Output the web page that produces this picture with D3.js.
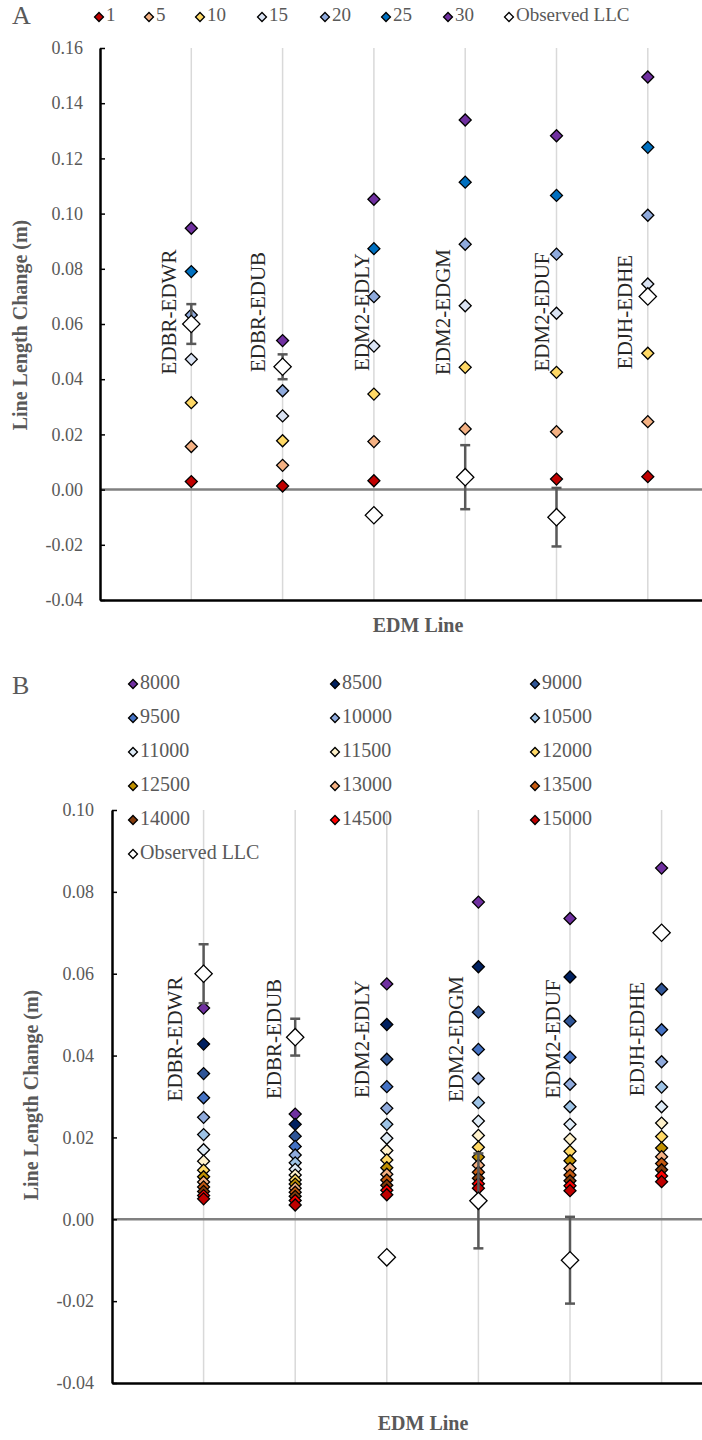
<!DOCTYPE html>
<html>
<head>
<meta charset="utf-8">
<script src="https://cdn.jsdelivr.net/npm/d3@7"></script>
<style>
  body { margin: 0; background: #fff; }
  svg text { font-family: "Liberation Serif", "DejaVu Serif", serif; }
</style>
</head>
<body>
<script>
const WIDTH  = 702;
const HEIGHT = 1440;

// EDM lines (categories, same for both panels)
const edmLines = ["EDBR-EDWR", "EDBR-EDUB", "EDM2-EDLY", "EDM2-EDGM", "EDM2-EDUF", "EDJH-EDHE"];

// Observed line length change and its error (m)
const observedLLC = [0.0600, 0.0445, -0.0093, 0.0045, -0.0100, 0.0700];
const observedErr = [0.0072, 0.0045, 0.0008, 0.0116, 0.0106, 0.0006];

// Panel A series names + values
const seriesNamesA = ["1", "5", "10", "15", "20", "25", "30"];
const a1  = [0.0029, 0.0013, 0.0032, 0.0045, 0.0038, 0.0047];
const a5  = [0.0156, 0.0088, 0.0174, 0.0220, 0.0210, 0.0246];
const a10 = [0.0315, 0.0177, 0.0346, 0.0443, 0.0425, 0.0494];
const a15 = [0.0472, 0.0267, 0.0520, 0.0666, 0.0639, 0.0745];
const a20 = [0.0633, 0.0358, 0.0699, 0.0889, 0.0853, 0.0994];
const a25 = [0.0790, 0.0448, 0.0873, 0.1114, 0.1066, 0.1240];
const a30 = [0.0947, 0.0540, 0.1052, 0.1339, 0.1282, 0.1495];

// Panel B series names + values
const seriesNamesB = ["8000", "8500", "9000", "9500", "10000", "10500", "11000", "11500",
                      "12000", "12500", "13000", "13500", "14000", "14500", "15000"];
const b8000  = [0.0516, 0.0257, 0.0575, 0.0775, 0.0735, 0.0858];
const b8500  = [0.0428, 0.0232, 0.0476, 0.0617, 0.0592, 0.0700];
const b9000  = [0.0356, 0.0203, 0.0391, 0.0506, 0.0484, 0.0562];
const b9500  = [0.0297, 0.0178, 0.0324, 0.0415, 0.0396, 0.0463];
const b10000 = [0.0249, 0.0157, 0.0271, 0.0344, 0.0330, 0.0385];
const b10500 = [0.0207, 0.0138, 0.0232, 0.0285, 0.0275, 0.0323];
const b11000 = [0.0170, 0.0122, 0.0198, 0.0240, 0.0232, 0.0275];
const b11500 = [0.0142, 0.0108, 0.0168, 0.0205, 0.0196, 0.0235];
const b12000 = [0.0120, 0.0096, 0.0145, 0.0176, 0.0166, 0.0202];
const b12500 = [0.0104, 0.0086, 0.0126, 0.0152, 0.0143, 0.0174];
const b13000 = [0.0091, 0.0076, 0.0110, 0.0132, 0.0124, 0.0153];
const b13500 = [0.0079, 0.0066, 0.0096, 0.0115, 0.0108, 0.0136];
const b14000 = [0.0068, 0.0056, 0.0083, 0.0100, 0.0094, 0.0121];
const b14500 = [0.0058, 0.0046, 0.0071, 0.0087, 0.0082, 0.0106];
const b15000 = [0.0050, 0.0035, 0.0060, 0.0076, 0.0070, 0.0092];

// Tick labels
const yTicksA = [-0.04, -0.02, 0, 0.02, 0.04, 0.06, 0.08, 0.10, 0.12, 0.14, 0.16];
const yTicksB = [-0.04, -0.02, 0, 0.02, 0.04, 0.06, 0.08, 0.10];

// Colours
const coloursA = ["#c00000", "#f4b183", "#ffd966", "#dae3f3", "#8faadc", "#0070c0", "#7030a0"];
const coloursB = ["#7030a0", "#002060", "#2f5597", "#4472c4", "#8faadc", "#9dc3e6", "#deebf7",
                  "#fff2cc", "#ffd966", "#bf9000", "#f4b183", "#c55a11", "#843c0c", "#ff0000", "#c00000"];

const GREY_TEXT = "#595959";

const svg = d3.select("body").append("svg")
  .attr("width", WIDTH)
  .attr("height", HEIGHT);

// diamond = rotated square
function diamond(g, x, y, area, fill) {
  g.append("path")
    .attr("d", d3.symbol().type(d3.symbolSquare).size(area)())
    .attr("transform", "translate(" + x + "," + y + ") rotate(45)")
    .style("fill", fill)
    .style("stroke", "#000")
    .style("stroke-width", 1.3);
}

function drawPanel(cfg) {
  const g = svg.append("g");
  const x = d3.scaleLinear().domain([0, 7]).range([cfg.left, cfg.left + 7 * cfg.step]);
  const y = d3.scaleLinear().domain(cfg.yDomain).range([cfg.bottom, cfg.top]);

  // vertical gridlines at each EDM line
  edmLines.forEach((name, i) => {
    g.append("line")
      .attr("x1", x(i + 1)).attr("x2", x(i + 1))
      .attr("y1", y(cfg.yDomain[1])).attr("y2", y(cfg.yDomain[0]))
      .style("stroke", "#d9d9d9")
      .style("stroke-width", 1.5);
  });

  // zero line
  g.append("line")
    .attr("x1", cfg.left).attr("x2", WIDTH)
    .attr("y1", y(0)).attr("y2", y(0))
    .style("stroke", "#808080")
    .style("stroke-width", 2.5);

  // axes
  const yAxis = d3.axisLeft(y)
    .tickValues(cfg.ticks)
    .tickFormat(d => d.toFixed(2))
    .tickSizeInner(-5)
    .tickSizeOuter(0)
    .tickPadding(cfg.tickPad);
  const ya = g.append("g")
    .attr("transform", "translate(" + cfg.left + ",0)")
    .call(yAxis);
  ya.select(".domain").style("stroke", "#000").style("stroke-width", 2.5);
  ya.selectAll(".tick line").style("stroke", "#000").style("stroke-width", 1.5);
  ya.selectAll(".tick text")
    .style("font-family", "Liberation Serif")
    .style("font-size", "18px")
    .style("fill", GREY_TEXT);

  const xa = g.append("g")
    .attr("transform", "translate(0," + cfg.bottom + ")")
    .call(d3.axisBottom(x).tickValues([]).tickSizeOuter(0));
  xa.select(".domain").style("stroke", "#000").style("stroke-width", 2.5);

  // series markers
  cfg.series.forEach((vals, s) => {
    vals.forEach((v, i) => diamond(g, x(i + 1), y(v), 72, cfg.colours[s]));
  });

  // observed error bars
  observedLLC.forEach((v, i) => {
    const cx = x(i + 1);
    const e = observedErr[i];
    const bar = g.append("g").style("stroke", "#595959").style("stroke-width", 2.5);
    bar.append("line").attr("x1", cx).attr("x2", cx).attr("y1", y(v + e)).attr("y2", y(v - e));
    bar.append("line").attr("x1", cx - 5).attr("x2", cx + 5).attr("y1", y(v + e)).attr("y2", y(v + e));
    bar.append("line").attr("x1", cx - 5).attr("x2", cx + 5).attr("y1", y(v - e)).attr("y2", y(v - e));
  });
  observedLLC.forEach((v, i) => diamond(g, x(i + 1), y(v), 150, "#fff"));

  // rotated category labels
  edmLines.forEach((name, i) => {
    g.append("text")
      .attr("transform", "translate(" + (x(i + 1) + cfg.labelNudge[i] + 7) + "," + cfg.labelY + ") rotate(-90)")
      .attr("text-anchor", "middle")
      .style("font-size", "21px")
      .style("fill", "#262626")
      .text(name);
  });

  // axis titles
  g.append("text")
    .attr("transform", "translate(" + cfg.yTitleX + "," + cfg.yTitleY + ") rotate(-90)")
    .attr("text-anchor", "middle")
    .attr("dominant-baseline", "middle")
    .style("font-size", "20px")
    .style("font-weight", "bold")
    .style("fill", GREY_TEXT)
    .text("Line Length Change (m)");
  g.append("text")
    .attr("x", cfg.xTitleX)
    .attr("y", cfg.xTitleY)
    .attr("text-anchor", "middle")
    .attr("dominant-baseline", "middle")
    .style("font-size", "20px")
    .style("font-weight", "bold")
    .style("fill", GREY_TEXT)
    .text("EDM Line");

  // panel letter
  svg.append("text")
    .attr("x", 12)
    .attr("y", cfg.letterY)
    .attr("dominant-baseline", "middle")
    .style("font-size", "26px")
    .style("fill", GREY_TEXT)
    .text(cfg.letter);
}

// legend A: single row
function legendA() {
  const xs = [99, 149, 200, 262, 325, 386, 448, 509];
  const names = seriesNamesA.concat(["Observed LLC"]);
  const fills = coloursA.concat(["#fff"]);
  names.forEach((n, i) => {
    diamond(svg, xs[i], 17, 40, fills[i]);
    svg.append("text")
      .attr("x", xs[i] + 7).attr("y", 17)
      .attr("dominant-baseline", "middle")
      .style("font-size", "19px")
      .style("fill", GREY_TEXT)
      .text(n);
  });
}

// legend B: three columns
function legendB() {
  const colX = [133, 335, 535];
  const names = seriesNamesB.concat(["Observed LLC"]);
  const fills = coloursB.concat(["#fff"]);
  names.forEach((n, i) => {
    const cx = colX[i % 3];
    const cy = 684 + Math.floor(i / 3) * 34;
    diamond(svg, cx, cy, 40, fills[i]);
    svg.append("text")
      .attr("x", cx + 7).attr("y", cy)
      .attr("dominant-baseline", "middle")
      .style("font-size", "20px")
      .style("fill", GREY_TEXT)
      .text(n);
  });
}

drawPanel({
  letter: "A", letterY: 18,
  left: 100, step: 91.3, top: 48, bottom: 600,
  yDomain: [-0.04, 0.16], ticks: yTicksA, tickPad: 17,
  series: [a1, a5, a10, a15, a20, a25, a30], colours: coloursA,
  labelY: 312, labelNudge: [-22, -25, -12, -22, -15, -23],
  yTitleX: 22, yTitleY: 325, xTitleX: 418, xTitleY: 627
});
drawPanel({
  letter: "B", letterY: 688,
  left: 112, step: 91.6, top: 810, bottom: 1383,
  yDomain: [-0.04, 0.10], ticks: yTicksB, tickPad: 18,
  series: [b8000, b8500, b9000, b9500, b10000, b10500, b11000, b11500,
           b12000, b12500, b13000, b13500, b14000, b14500, b15000], colours: coloursB,
  labelY: 1039, labelNudge: [-29, -21, -25, -22, -17, -25],
  yTitleX: 33, yTitleY: 1095, xTitleX: 423, xTitleY: 1425
});
legendA();
legendB();
</script>
</body>
</html>
